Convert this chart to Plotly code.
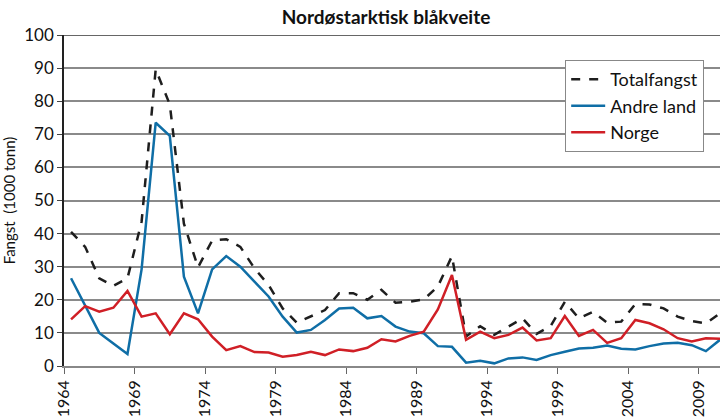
import plotly.graph_objects as go

years = list(range(1964, 2011))
totalfangst = [40.5, 36, 26.5, 24.2, 26.5, 43.6, 89.6, 79, 43, 29.8, 37.9, 38.3, 36, 29.5,
               24.5, 17.4, 13.1, 14.9, 16.9, 22, 22, 20, 23, 19.1, 19.4, 20.1, 24, 33.2,
               8.9, 12, 9.4, 11.9, 14.4, 9.7, 12.1, 19.4, 14.4, 16.4, 13.1, 13.4, 18.7, 18.6,
               17.4, 14.9, 13.6, 12.9, 15.9]
andre_land = [26.5, 18.4, 10, 6.8, 3.6, 29.2, 73.5, 69.5, 27, 15.9, 29.2, 33.2, 30, 25.5,
              21, 14.9, 10.1, 10.9, 13.9, 17.4, 17.6, 14.4, 15.1, 11.9, 10.4, 9.9, 6, 5.8,
              1, 1.6, 0.8, 2.3, 2.6, 1.8, 3.3, 4.3, 5.3, 5.5, 6.2, 5.2, 5, 6, 6.8, 7, 6.3, 4.5, 7.9]
norge = [14.1, 18.1, 16.4, 17.6, 22.7, 14.9, 15.9, 9.6, 15.9, 14.1, 8.9, 4.8, 6, 4.2,
         4.1, 2.8, 3.3, 4.3, 3.3, 5, 4.5, 5.5, 8.1, 7.4, 9.1, 10.4, 17.1, 27.5,
         7.9, 10.4, 8.4, 9.4, 11.6, 7.7, 8.4, 15.1, 9.1, 10.9, 7, 8.4, 13.9, 12.9, 11.1,
         8.4, 7.4, 8.4, 8.2]
tick_years = list(range(1964, 2010, 5))
tick_labels = [str(y) for y in tick_years]

xpos = [y + 0.5 for y in years]
FONT = "Lato, 'Open Sans', sans-serif"

fig = go.Figure()
fig.add_trace(go.Scatter(x=xpos, y=totalfangst, mode="lines", name="Totalfangst",
                         line=dict(color="#1e1e1e", width=2.5, dash="dash")))
fig.add_trace(go.Scatter(x=xpos, y=andre_land, mode="lines", name="Andre land",
                         line=dict(color="#0f6ea6", width=2.5)))
fig.add_trace(go.Scatter(x=xpos, y=norge, mode="lines", name="Norge",
                         line=dict(color="#d01f26", width=2.5)))

fig.update_layout(
    width=720, height=418,
    margin=dict(l=64, r=0, t=35, b=52),
    paper_bgcolor="white", plot_bgcolor="white",
    font=dict(family=FONT, color="#111", size=15),
    title=dict(text="<b>Nordøstarktisk blåkveite</b>", x=386/720, xanchor="center",
               y=1 - 17/418, yanchor="middle", font=dict(size=19, family=FONT, color="#111")),
    showlegend=True,
    legend=dict(x=0.764, y=0.924, xanchor="left", yanchor="top",
                bgcolor="white", bordercolor="#888", borderwidth=1,
                font=dict(size=18, family=FONT), tracegroupgap=0,
                itemwidth=34),
    xaxis=dict(range=[1964, 2010.5], tickmode="array", tickvals=tick_years,
               ticktext=tick_labels, tickangle=-90, showgrid=False,
               showline=True, linecolor="#888", linewidth=1.5,
               ticks="outside", ticklen=6, tickcolor="#666",
               tickfont=dict(size=16, family=FONT), zeroline=False, fixedrange=True),
    yaxis=dict(range=[0, 100], dtick=10, showgrid=True, gridcolor="#8a8a8a", gridwidth=1.5,
               showline=True, linecolor="#222", linewidth=1.5, mirror=False,
               ticks="outside", ticklen=5, tickcolor="#444",
               tickfont=dict(size=17, family=FONT), zeroline=False,
               title=dict(text="Fangst  (1000 tonn)", font=dict(size=15, family=FONT), standoff=6)),
)
# top border line at 100
fig.add_shape(type="line", xref="paper", yref="y", x0=0, x1=1, y0=100, y1=100,
              line=dict(color="#333", width=1.5))

fig.write_html("out.html", config={"displayModeBar": False},
               post_script="document.body.style.margin='0';")
